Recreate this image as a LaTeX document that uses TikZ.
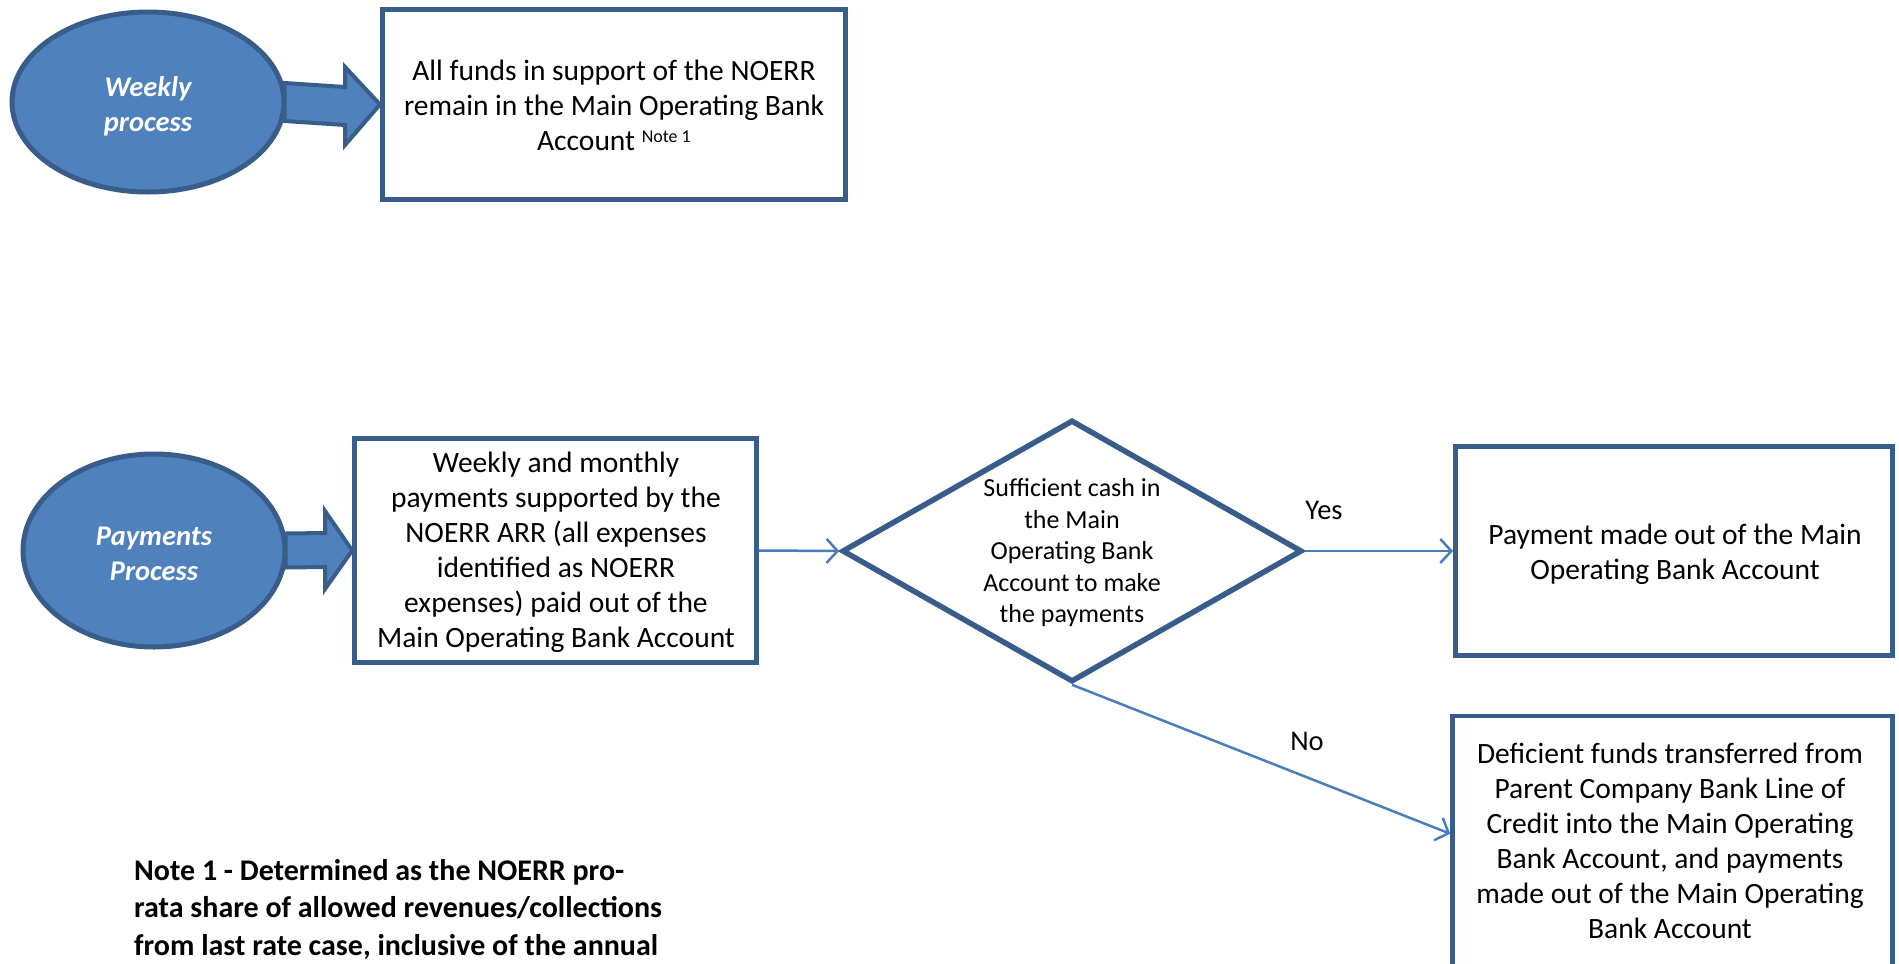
\documentclass[tikz,border=0pt]{standalone}
\usepackage{fontspec}
\setmainfont{Carlito}
\usetikzlibrary{shapes.geometric,arrows.meta,calc}
\definecolor{fillblue}{HTML}{4F81BD}
\definecolor{edgeblue}{HTML}{385D8A}
\definecolor{linkblue}{HTML}{4A7EBB}
\begin{document}
\begin{tikzpicture}[x=1pt,y=-1pt,
  procoval/.style={ellipse, fill=fillblue, draw=edgeblue, line width=5pt, inner sep=0pt},
  ovaltext/.style={text=white, font=\fontsize{28.5}{35}\selectfont\bfseries\itshape, align=center},
  stepbox/.style={rectangle, draw=edgeblue, line width=5pt, fill=white, inner sep=0pt},
  boxtext/.style={align=center, font=\fontsize{29.5}{35}\selectfont, inner sep=0pt},
  decision/.style={diamond, draw=edgeblue, line width=5.5pt, fill=white, inner sep=0pt},
  blockarrow/.style={fill=fillblue, draw=edgeblue, line width=4pt, line join=miter},
  link/.style={draw=linkblue, line width=2.5pt, -{Straight Barb[length=11pt, width=24pt, line width=2.5pt]}},
  flowlabel/.style={font=\fontsize{28.5}{35}\selectfont, inner sep=0pt}
]
\useasboundingbox (0,0) rectangle (1899,964);
\clip (0,0) rectangle (1899,964);

% --- weekly process ---
\node[procoval, minimum width=272pt, minimum height=180pt] (wk) at (148,102) {};
\node[ovaltext] at (148,106) {Weekly\\process};
\node[stepbox, minimum width=463pt, minimum height=190pt] (funds) at (614,104.5) {};
\node[boxtext] (fundstext) at (614,105) {All funds in support of the NOERR\\remain in the Main Operating Bank\\Account \raisebox{0.55ex}{\fontsize{18}{18}\selectfont Note 1}};
\path[blockarrow] ($(wk.east)+(-2,-19)$) -- (345,87) -- (345,67) -- (funds.west) -- (345,145) -- (345,125) -- ($(wk.east)+(-2,19)$) -- cycle;

% --- payments process ---
\node[procoval, minimum width=262pt, minimum height=193pt] (pp) at (154,550.5) {};
\node[ovaltext] at (154,554) {Payments\\Process};
\node[stepbox, line width=4.5pt, minimum width=402pt, minimum height=224pt] (pay) at (555.5,550.5) {};
\node[boxtext] at (556,552) {Weekly and monthly\\payments supported by the\\NOERR ARR (all expenses\\identified as NOERR\\expenses) paid out of the\\Main Operating Bank Account};
\path[blockarrow] ($(pp.east)+(-2,-17)$) -- (325,533) -- (325,511) -- (pay.west) -- (325,589) -- (325,567) -- ($(pp.east)+(-2,17)$) -- cycle;

% --- decision ---
\node[decision, minimum width=460pt, minimum height=262pt] (dia) at (1072,551) {};
\node[boxtext, font=\fontsize{26}{31.5}\selectfont] at (1072,553) {Sufficient cash in\\the Main\\Operating Bank\\Account to make\\the payments};

% --- outcomes ---
\node[stepbox, minimum width=437pt, minimum height=209pt] (paid) at (1674,551) {};
\node[boxtext] at (1675,554) {Payment made out of the Main\\Operating Bank Account};

\node[stepbox, line width=4.5pt, minimum width=440pt, minimum height=300pt] (short) at (1672.5,866) {};
\node[boxtext] at (1670,841) {Deficient funds transferred from\\Parent Company Bank Line of\\Credit into the Main Operating\\Bank Account, and payments\\made out of the Main Operating\\Bank Account};
\coordinate (noend) at ($(short.north west)+(0,120)$);

% --- connectors ---
\draw[link] (pay.east) -- (dia.west);
\draw[link] (dia.east) -- (paid.west);
\draw[link] (dia.south) -- (noend);
\node[flowlabel] at (1324,510) {Yes};
\node[flowlabel] at (1307,741) {No};

% --- footnote ---
\node[anchor=north west, align=left, inner sep=0pt, font=\fontsize{30}{37.5}\selectfont\bfseries] (note) at (134,859) {Note 1 - Determined as the NOERR pro-\\rata share of allowed revenues/collections\\from last rate case, inclusive of the annual};
\end{tikzpicture}
\end{document}
